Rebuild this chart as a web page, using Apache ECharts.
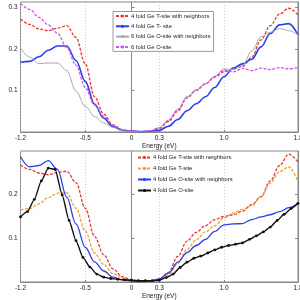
<!DOCTYPE html>
<html><head><meta charset="utf-8">
<script src="https://cdn.jsdelivr.net/npm/echarts@6/dist/echarts.min.js"></script>
<style>html,body{margin:0;padding:0;background:#fff}#c{width:300px;height:300px}</style>
</head><body><div id="c"></div>
<script>
const energy = [-1.2,-1.1,-1.0,-0.9,-0.8,-0.7,-0.6,-0.5,-0.4,-0.3,-0.2,-0.1,0,0.1,0.2,0.3,0.4,0.5,0.6,0.7,0.8,0.9,1.0,1.1,1.2,1.3,1.4,1.5,1.6,1.7,1.8];
const energyFine = [-1.2,-1.125,-1.05,-0.975,-0.9,-0.825,-0.75,-0.675,-0.6,-0.525,-0.45,-0.375,-0.3,-0.225,-0.15,-0.075,0,0.075,0.15,0.225,0.3,0.375,0.45,0.525,0.6,0.675,0.75,0.825,0.9,0.975,1.05,1.125,1.2,1.275,1.35,1.425,1.5,1.575,1.65,1.725,1.8];

// top panel
const topTNbr = [0.272,0.259,0.248,0.244,0.250,0.256,0.228,0.164,0.085,0.043,0.017,0.005,0.002,0.001,0.002,0.008,0.025,0.050,0.082,0.101,0.116,0.132,0.145,0.152,0.158,0.180,0.222,0.256,0.284,0.298,0.282];
const topT     = [0.168,0.170,0.181,0.197,0.207,0.207,0.172,0.122,0.067,0.033,0.013,0.004,0.002,0.001,0.002,0.004,0.014,0.030,0.051,0.068,0.085,0.107,0.133,0.154,0.164,0.175,0.205,0.237,0.258,0.261,0.234];
const topONbr  = [0.202,0.180,0.165,0.166,0.166,0.148,0.098,0.062,0.037,0.022,0.011,0.003,0.001,0.001,0.003,0.010,0.028,0.055,0.085,0.102,0.117,0.134,0.152,0.150,0.160,0.195,0.229,0.240,0.249,0.244,0.234];
const topO     = [0.310,0.295,0.276,0.258,0.238,0.203,0.161,0.107,0.065,0.038,0.016,0.006,0.002,0.001,0.003,0.010,0.028,0.053,0.083,0.100,0.116,0.133,0.149,0.145,0.153,0.148,0.154,0.150,0.155,0.152,0.155];

// bottom panel
const botTNbr = [0.266,0.256,0.248,0.244,0.249,0.252,0.226,0.168,0.104,0.062,0.030,0.012,0.005,0.002,0.003,0.006,0.022,0.058,0.093,0.113,0.128,0.142,0.149,0.153,0.161,0.176,0.194,0.230,0.265,0.291,0.273];
const botT    = [0.164,0.167,0.178,0.192,0.202,0.203,0.168,0.116,0.066,0.040,0.019,0.008,0.003,0.002,0.003,0.006,0.016,0.042,0.074,0.096,0.114,0.128,0.146,0.157,0.165,0.174,0.194,0.225,0.251,0.262,0.228];
const botONbr = [0.285,0.262,0.265,0.276,0.256,0.193,0.132,0.079,0.046,0.025,0.011,0.005,0.002,0.001,0.002,0.007,0.020,0.045,0.067,0.083,0.097,0.115,0.130,0.132,0.133,0.142,0.148,0.153,0.160,0.169,0.179];
const botO    = [0.148,0.160,0.188,0.230,0.259,0.256,0.198,0.140,0.094,0.056,0.034,0.018,0.011,0.008,0.006,0.005,0.004,0.003,0.003,0.003,0.004,0.010,0.018,0.033,0.045,0.054,0.059,0.066,0.073,0.079,0.083,0.086,0.089,0.097,0.105,0.114,0.125,0.140,0.154,0.167,0.179];

const xTickValues = [-1.2,-0.5,0,0.3,1.0,1.8];
const xTickLabels = ['-1.2','-0.5','0','0.3','1.0','1.8'];
const topYTicks = [0.1,0.2,0.3];
const botYTicks = [0.1,0.2];

const topNames = ['4 fold Ge T-site with neighbors','4 fold Ge T- site','6 fold Ge O-site with neighbors','6 fold Ge O-site'];
const botNames = ['4 fold Ge T-site with neighbors','4 fold Ge T-site','4 fold Ge O-site with neighbors','4 fold Ge O-site'];

const FONT = 'Liberation Sans';
const pairs = (xs, ys) => xs.map((x, i) => [x, ys[i]]);
const lbl = v => { const i = xTickValues.findIndex(t => Math.abs(t - v) < 1e-9); return i >= 0 ? xTickLabels[i] : ''; };

function xAxisDef(gi) {
  return {
    type: 'value', gridIndex: gi, min: -1.2, max: 1.8,
    name: 'Energy (eV)', nameLocation: 'middle', nameGap: 11,
    nameTextStyle: { fontSize: 6.5, color: '#222', fontFamily: FONT },
    axisLine: { onZero: false, lineStyle: { color: '#888', width: 1 } },
    axisTick: { inside: true, length: 2, customValues: xTickValues, lineStyle: { color: '#888' } },
    axisLabel: { customValues: xTickValues, formatter: lbl, fontSize: 6.5, color: '#222', margin: 3, fontFamily: FONT },
    splitLine: { show: true, lineStyle: { color: '#bbb', type: [1, 2], width: 0.8 } }
  };
}
function yAxisDef(gi, max, ticks, right) {
  return {
    type: 'value', gridIndex: gi, min: 0, max: max, position: right ? 'right' : 'left',
    name: right ? '' : 'DOS', nameLocation: 'middle', nameGap: 12, nameRotate: 90,
    nameTextStyle: { fontSize: 6.5, color: '#222', fontFamily: FONT },
    axisLine: { show: true, lineStyle: { color: '#888', width: 1 } },
    axisTick: { inside: true, length: 3, customValues: ticks, lineStyle: { color: '#888' } },
    axisLabel: { show: !right, customValues: ticks, formatter: v => v.toFixed(1), fontSize: 6.5, color: '#222', margin: 3, fontFamily: FONT },
    splitLine: { show: false }
  };
}
function line(name, xi, data, color, width, type, extra) {
  return Object.assign({
    name, type: 'line', xAxisIndex: xi, yAxisIndex: xi * 2, data,
    smooth: 0.35, smoothMonotone: 'x', showSymbol: false, symbol: 'none',
    lineStyle: { color, width, type }, itemStyle: { color }, z: 3
  }, extra || {});
}

const chart = echarts.init(document.getElementById('c'), null, { renderer: 'canvas' });
chart.setOption({
  animation: false,
  backgroundColor: '#fff',
  textStyle: { fontFamily: FONT },
  grid: [
    { left: 20.5, right: 2, top: 2, height: 130, show: true, borderColor: '#888', borderWidth: 1, outerBoundsMode: 'none', containLabel: false },
    { left: 20.5, right: 2, top: 151, height: 131, show: true, borderColor: '#888', borderWidth: 1, outerBoundsMode: 'none', containLabel: false }
  ],
  xAxis: [xAxisDef(0), xAxisDef(1)],
  yAxis: [yAxisDef(0, 0.313, topYTicks, false), yAxisDef(0, 0.313, topYTicks, true),
          yAxisDef(1, 0.298, botYTicks, false), yAxisDef(1, 0.298, botYTicks, true)],
  legend: [
    { data: topNames.map(n => ({ name: n })), orient: 'vertical', left: 113, top: 11.5, itemWidth: 13, itemHeight: 4, itemGap: 4.3,
      padding: [1.5, 3, 1.5, 2], backgroundColor: '#fff', borderColor: '#999', borderWidth: 1,
      textStyle: { fontSize: 5.8, color: '#222', fontFamily: FONT, padding: [0, 0, 0, -3] } },
    { data: botNames.map((n, i) => ({ name: n + '\u200b' })), orient: 'vertical', left: 137, top: 154.5, itemWidth: 13, itemHeight: 4, itemGap: 5,
      padding: 0, textStyle: { fontSize: 5.8, color: '#222', fontFamily: FONT, padding: [0, 0, 0, -3] } }
  ],
  series: [
    line(topNames[0], 0, pairs(energy, topTNbr), '#e53a35', 1.3, [3, 1.5]),
    line(topNames[1], 0, pairs(energy, topT), '#2b3fe8', 1.6, 'solid'),
    line(topNames[2], 0, pairs(energy, topONbr), '#a8a8a8', 1, 'solid'),
    line(topNames[3], 0, pairs(energy, topO), '#cc55ee', 1.3, [3, 1.5]),
    Object.assign(line(botNames[0] + '\u200b', 1, pairs(energy, botTNbr), '#e53a35', 1.3, [3, 1.5]), { yAxisIndex: 2 }),
    Object.assign(line(botNames[1] + '\u200b', 1, pairs(energy, botT), '#f0a030', 1.3, [3, 1.5]), { yAxisIndex: 2 }),
    Object.assign(line(botNames[2] + '\u200b', 1, pairs(energy, botONbr), '#2b3fe8', 1.3, 'solid'), { yAxisIndex: 2 }),
    Object.assign(line(botNames[3] + '\u200b', 1, pairs(energyFine, botO), '#111', 1.4, 'solid',
      { showSymbol: true, symbol: 'circle', symbolSize: 2.8, smooth: 0.2 }), { yAxisIndex: 2 })
  ]
});
</script></body></html>
